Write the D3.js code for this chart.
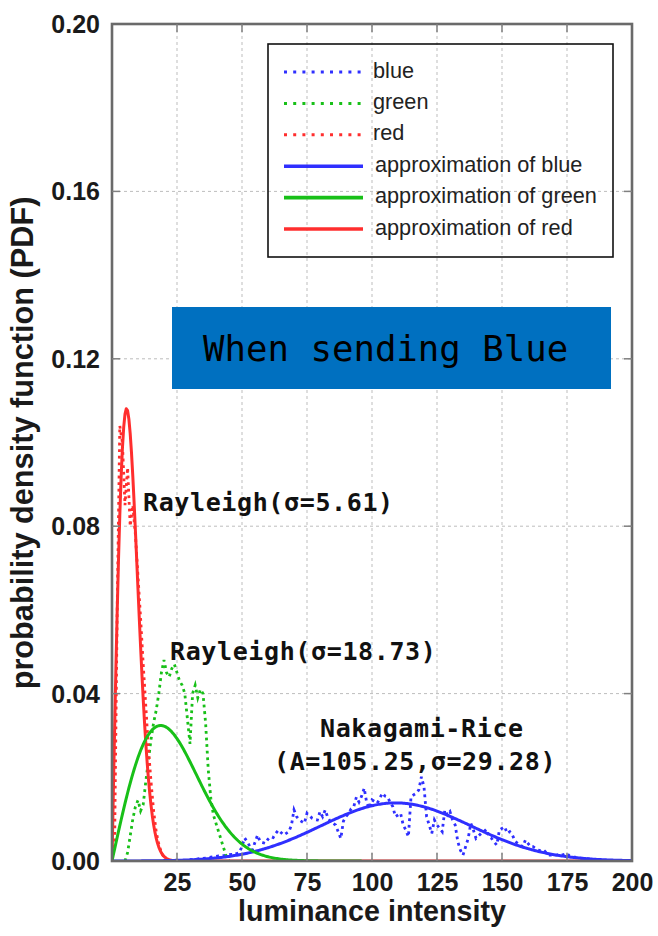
<!DOCTYPE html>
<html>
<head>
<meta charset="utf-8">
<script src="https://cdn.jsdelivr.net/npm/d3@7"></script>
<style>
  html, body { margin: 0; padding: 0; background: #fff; }
  svg { display: block; }
</style>
</head>
<body>
<svg id="chart" width="658" height="936"></svg>
<script>
// ---- axis ticks ----
const xTicks = [25, 50, 75, 100, 125, 150, 175, 200];
const yTicks = [0, 0.04, 0.08, 0.12, 0.16, 0.20];

// ---- fitted model parameters ----
const redSigma = 5.61;          // Rayleigh
const greenSigma = 18.73;       // Rayleigh
const blueA = 105.25;           // Nakagami-Rice
const blueSigma = 29.28;

// ---- measured histograms (PDF per luminance level) ----
const redStart = 0;
const redValues = [0, 0.004, 0.06, 0.104, 0.1, 0.085, 0.094, 0.08, 0.085, 0.078,
  0.068, 0.058, 0.047, 0.037, 0.027, 0.019, 0.012, 0.007, 0.004, 0.002, 0.0008, 0, 0];

const greenStart = 5;
const greenValues = [0, 0.002, 0.006, 0.01, 0.013, 0.0145, 0.012, 0.0135, 0.019, 0.024,
  0.029, 0.033, 0.036, 0.04, 0.045, 0.048, 0.045, 0.044, 0.046, 0.047,
  0.045, 0.043, 0.042, 0.04, 0.034, 0.028, 0.04, 0.042, 0.039, 0.041,
  0.04, 0.033, 0.022, 0.015, 0.011, 0.009, 0.007, 0.005, 0.003, 0.001, 0];

const blueStart = 30;
const blueValues = [
  0.0003, 0.0003, 0.0004, 0.0005, 0.0006, 0.0006, 0.0007, 0.0008, 0.0009, 0.001,
  0.0011, 0.0012, 0.0012, 0.0013, 0.0014, 0.0015, 0.0016, 0.0015, 0.0018, 0.002,
  0.0035, 0.0055, 0.0046, 0.0035, 0.0026, 0.0045, 0.0062, 0.0046, 0.0044, 0.0042,
  0.0052, 0.0058, 0.0056, 0.0066, 0.0074, 0.0068, 0.0062, 0.0066, 0.007, 0.0085,
  0.0122, 0.0106, 0.0098, 0.0094, 0.009, 0.0114, 0.0108, 0.0102, 0.0099, 0.0098,
  0.0118, 0.0106, 0.0122, 0.0104, 0.0094, 0.009, 0.0086, 0.007, 0.0054, 0.0095,
  0.0106, 0.0114, 0.0125, 0.013, 0.0153, 0.0141, 0.0155, 0.0174, 0.0138, 0.0126,
  0.0146, 0.0142, 0.0138, 0.015, 0.0162, 0.0155, 0.0153, 0.014, 0.013, 0.0106,
  0.011, 0.0114, 0.0086, 0.0074, 0.0058, 0.0153, 0.0158, 0.0162, 0.017, 0.0201,
  0.0177, 0.0106, 0.0086, 0.0066, 0.0098, 0.0086, 0.0078, 0.007, 0.0122, 0.011,
  0.0118, 0.0098, 0.0086, 0.0046, 0.0026, 0.0014, 0.0034, 0.0054, 0.009, 0.0074,
  0.0054, 0.006, 0.0066, 0.007, 0.0076, 0.0058, 0.0054, 0.0045, 0.0038, 0.0074,
  0.0078, 0.0082, 0.0066, 0.007, 0.0062, 0.0048, 0.0042, 0.0038, 0.0034, 0.005,
  0.0042, 0.0034, 0.0034, 0.003, 0.0026, 0.0024, 0.0026, 0.002, 0.0014, 0.0014,
  0.0014, 0.0014, 0.0016, 0.0014, 0.0016, 0.0018, 0.0012, 0.001, 0.0009, 0.0008,
  0.0007, 0.0006, 0.0006, 0.0005, 0.0004, 0.0003, 0.0002, 0.0001, 0];

// ---- legend ----
const legendLabels = ["blue", "green", "red", "approximation of blue", "approximation of green", "approximation of red"];

const COLORS = { blue: "#2f2fff", green: "#18c018", red: "#ff2e2e" };

// ---- layout ----
const svg = d3.select("#chart");
const plot = { left: 112, top: 24, right: 632, bottom: 861 };

const x = d3.scaleLinear().domain([0, 200]).range([plot.left, plot.right]);
const y = d3.scaleLinear().domain([0, 0.2]).range([plot.bottom, plot.top]);

svg.append("defs").append("clipPath").attr("id", "plotClip")
  .append("rect")
  .attr("x", plot.left).attr("y", plot.top - 2)
  .attr("width", plot.right - plot.left).attr("height", plot.bottom - plot.top + 2);

// grid
const grid = svg.append("g").attr("class", "grid")
  .attr("stroke", "#bdbdbd").attr("stroke-width", 1).attr("stroke-dasharray", "3,3");
grid.selectAll("line.v").data(xTicks.filter(t => t > 0 && t < 200)).join("line")
  .attr("class", "v")
  .attr("x1", d => x(d)).attr("x2", d => x(d))
  .attr("y1", plot.top).attr("y2", plot.bottom);
grid.selectAll("line.h").data(yTicks.filter(t => t > 0 && t < 0.2)).join("line")
  .attr("class", "h")
  .attr("x1", plot.left).attr("x2", plot.right)
  .attr("y1", d => y(d)).attr("y2", d => y(d));

// title box
const boxG = svg.append("g");
boxG.append("rect")
  .attr("x", 172).attr("y", 307).attr("width", 439).attr("height", 82)
  .attr("fill", "#0070c0");
boxG.append("text")
  .attr("x", 203).attr("y", 361)
  .attr("font-family", "'DejaVu Sans Mono', monospace")
  .attr("font-size", 35.7)
  .attr("fill", "#000")
  .text("When sending Blue");

// curves
const curves = svg.append("g").attr("clip-path", "url(#plotClip)");

const toPoints = (start, vals) => vals.map((v, i) => [start + i, v]);
const line = d3.line().x(d => x(d[0])).y(d => y(d[1]));

const rayleigh = s => v => (v / (s * s)) * Math.exp(-(v * v) / (2 * s * s));
// exp(-z) * I0(z), Abramowitz & Stegun 9.8.1 / 9.8.2
function besselI0e(z) {
  const t = z / 3.75;
  if (z < 3.75) {
    const t2 = t * t;
    return Math.exp(-z) * (1 + t2 * (3.5156229 + t2 * (3.0899424 + t2 * (1.2067492 +
      t2 * (0.2659732 + t2 * (0.0360768 + t2 * 0.0045813))))));
  }
  const u = 1 / t;
  return (1 / Math.sqrt(z)) * (0.39894228 + u * (0.01328592 + u * (0.00225319 + u * (-0.00157565 +
    u * (0.00916281 + u * (-0.02057706 + u * (0.02635537 + u * (-0.01647633 + u * 0.00392377))))))));
}
const rice = (A, s) => v => (v / (s * s)) * Math.exp(-((v - A) * (v - A)) / (2 * s * s)) * besselI0e(v * A / (s * s));

const sampleFit = (f, lo, hi) => d3.range(lo, hi + 0.001, 0.5).map(v => [v, f(v)]);

const dotted = { width: 2.8, dash: "2.8,3.8" };

// measured (dotted)
[[blueStart, blueValues, COLORS.blue], [greenStart, greenValues, COLORS.green], [redStart, redValues, COLORS.red]]
  .forEach(([s, vals, c]) => {
    curves.append("path")
      .datum(toPoints(s, vals))
      .attr("d", line)
      .attr("fill", "none")
      .attr("stroke", c)
      .attr("stroke-width", dotted.width)
      .attr("stroke-dasharray", dotted.dash);
  });

// fitted (solid)
[[sampleFit(rayleigh(redSigma), 0, 200), COLORS.red],
 [sampleFit(rice(blueA, blueSigma), 0, 200), COLORS.blue],
 [sampleFit(rayleigh(greenSigma), 0, 96), COLORS.green]]
  .forEach(([pts, c]) => {
    curves.append("path")
      .datum(pts)
      .attr("d", line)
      .attr("fill", "none")
      .attr("stroke", c)
      .attr("stroke-width", 3)
      .attr("stroke-linejoin", "round");
  });

// frame and inward ticks
svg.append("rect")
  .attr("x", plot.left).attr("y", plot.top)
  .attr("width", plot.right - plot.left).attr("height", plot.bottom - plot.top)
  .attr("fill", "none").attr("stroke", "#6a6a6a").attr("stroke-width", 2.6);

const tickG = svg.append("g").attr("stroke", "#808080").attr("stroke-width", 1.5);
const tlen = 8;
xTicks.filter(t => t < 200).forEach(t => {
  tickG.append("line").attr("x1", x(t)).attr("x2", x(t)).attr("y1", plot.bottom).attr("y2", plot.bottom - tlen);
  tickG.append("line").attr("x1", x(t)).attr("x2", x(t)).attr("y1", plot.top).attr("y2", plot.top + tlen);
});
yTicks.filter(t => t > 0 && t < 0.2).forEach(t => {
  tickG.append("line").attr("x1", plot.left).attr("x2", plot.left + tlen).attr("y1", y(t)).attr("y2", y(t));
  tickG.append("line").attr("x1", plot.right).attr("x2", plot.right - tlen).attr("y1", y(t)).attr("y2", y(t));
});

// axes labels via d3 axes (lines hidden, labels only)
const tickFont = "'Liberation Sans', Arial, sans-serif";
const xAxis = svg.append("g")
  .attr("transform", `translate(0,${plot.bottom})`)
  .call(d3.axisBottom(x).tickValues(xTicks).tickSize(0).tickPadding(0).tickFormat(d3.format("d")));
xAxis.select(".domain").remove();
xAxis.selectAll("text")
  .attr("y", 30).attr("dy", 0)
  .attr("font-family", tickFont).attr("font-weight", "bold").attr("font-size", 25).attr("fill", "#1a1a1a");

const yAxis = svg.append("g")
  .attr("transform", `translate(${plot.left},0)`)
  .call(d3.axisLeft(y).tickValues(yTicks).tickSize(0).tickPadding(0).tickFormat(d3.format(".2f")));
yAxis.select(".domain").remove();
yAxis.selectAll("text")
  .attr("x", -12).attr("dy", "0.34em")
  .attr("font-family", tickFont).attr("font-weight", "bold").attr("font-size", 25).attr("fill", "#1a1a1a");

svg.append("text")
  .attr("x", 372).attr("y", 921)
  .attr("text-anchor", "middle")
  .attr("font-family", tickFont).attr("font-weight", "bold").attr("font-size", 28.7).attr("fill", "#1a1a1a")
  .text("luminance intensity");

svg.append("text")
  .attr("transform", "translate(33,443) rotate(-90)")
  .attr("text-anchor", "middle")
  .attr("font-family", tickFont).attr("font-weight", "bold").attr("font-size", 30.7).attr("fill", "#1a1a1a")
  .text("probability density function (PDF)");

// model annotations
const annoFont = "'DejaVu Sans Mono', monospace";
const annotations = [
  { text: `Rayleigh(σ=${redSigma.toFixed(2)})`, x: 143, y: 511 },
  { text: `Rayleigh(σ=${greenSigma.toFixed(2)})`, x: 170, y: 660 },
  { text: "Nakagami-Rice", x: 320, y: 737 },
  { text: `(A=${blueA.toFixed(2)},σ=${blueSigma.toFixed(2)})`, x: 274, y: 770 }
];
svg.append("g").selectAll("text").data(annotations).join("text")
  .attr("x", d => d.x).attr("y", d => d.y)
  .attr("font-family", annoFont).attr("font-weight", "bold")
  .attr("font-size", 25).attr("letter-spacing", 0.62)
  .attr("fill", "#111")
  .text(d => d.text);

// legend
const legend = svg.append("g");
legend.append("rect")
  .attr("x", 268).attr("y", 44).attr("width", 345).attr("height", 213)
  .attr("fill", "none").attr("stroke", "#111").attr("stroke-width", 1.6);
const legendColors = [COLORS.blue, COLORS.green, COLORS.red, COLORS.blue, COLORS.green, COLORS.red];
const legendRows = legendLabels.map((lab, i) => ({ lab, color: legendColors[i], dashed: i < 3, i }));
const rowY = i => 72 + i * 31.4;
const rows = legend.selectAll("g.row").data(legendRows).join("g").attr("class", "row");
rows.append("line")
  .attr("x1", 284).attr("x2", 363)
  .attr("y1", d => rowY(d.i)).attr("y2", d => rowY(d.i))
  .attr("stroke", d => d.color)
  .attr("stroke-width", d => d.dashed ? 3 : 3.6)
  .attr("stroke-dasharray", d => d.dashed ? "3,6.2" : null);
rows.append("text")
  .attr("x", d => d.dashed ? 373 : 375)
  .attr("y", d => rowY(d.i) + 5.5)
  .attr("font-family", tickFont).attr("font-size", 21.7).attr("fill", "#222")
  .text(d => d.lab);
</script>
</body>
</html>
